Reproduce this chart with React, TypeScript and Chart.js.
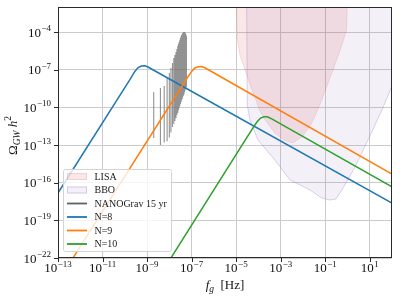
import React, { useEffect, useRef } from 'react';
import { Chart, registerables } from 'chart.js';

Chart.register(...registerables);

// ---- data (all values given as log10) ----
const N8_LOG_F = [-13, -9.75, -9.55, -9.4, -9.25, -9.1, -8.95, -8.72, 2];
const N8_LOG_OMEGA = [-16.82, -7.72, -7.13, -6.83, -6.7, -6.69, -6.78, -7.02, -17.62];

const N9_LOG_F = [-12.5, -7.2, -7.0, -6.85, -6.7, -6.55, -6.4, -6.17, 2];
const N9_LOG_OMEGA = [-22.48, -7.66, -7.13, -6.86, -6.76, -6.75, -6.84, -7.08, -15.31];

const N10_LOG_F = [-8.1, -4.6, -4.4, -4.2, -4.05, -3.9, -3.75, -3.6, -3.4, 2];
const N10_LOG_OMEGA = [-22.48, -12.63, -12.07, -11.51, -11.12, -10.85, -10.74, -10.75, -10.92, -16.34];

const LISA_LOG_F = [-5.0, -4.98, -4.94, -4.83, -4.6, -4.29, -4.11, -3.95, -3.7, -3.26, -2.85, -2.45, -2.0, -1.61, -1.34, -1.16, -0.65, -0.25, -0.04, 0.0];
const LISA_LOG_OMEGA = [-1.0, -2.0, -4.63, -5.82, -7.02, -8.61, -9.41, -10.21, -11.0, -12.04, -12.6, -12.84, -12.28, -11.27, -10.21, -9.41, -7.02, -5.03, -3.83, -1.0];

const BBO_LOG_F = [-4.53, -4.5, -4.38, -4.02, -3.26, -2.58, -1.68, -1.15, -0.79, -0.52, -0.25, 0.34, 0.92, 1.55, 2.0, 2.36];
const BBO_LOG_OMEGA = [-1.0, -9.8, -11.0, -12.6, -14.19, -15.78, -16.58, -17.22, -17.38, -17.3, -16.58, -14.75, -12.6, -10.21, -8.29, -7.0];

// NANOGrav 15 yr violins: frequency bins and vertical extent
const NG_LOG_F = [-8.70, -8.40, -8.23, -8.10, -8.00, -7.93, -7.86, -7.80, -7.75, -7.70, -7.66, -7.62, -7.59, -7.56, -7.53, -7.50, -7.47, -7.45, -7.42, -7.40, -7.38, -7.36, -7.34, -7.32, -7.31, -7.29, -7.27, -7.26, -7.24, -7.23];
const NG_LOG_TOP = [-8.77, -8.45, -8.29, -7.66, -7.26, -6.86, -6.46, -6.06, -5.82, -5.59, -5.35, -5.11, -4.95, -4.79, -4.63, -4.47, -4.31, -4.23, -4.15, -4.07, -4.07, -3.99, -4.07, -4.15, -3.99, -4.07, -4.23, -4.15, -4.39, -4.31];
const NG_LOG_BOTTOM = [-12.44, -13.0, -12.8, -12.7, -12.4, -12.0, -11.56, -11.32, -11.08, -10.84, -10.61, -10.45, -10.21, -10.05, -9.89, -9.73, -9.57, -9.41, -9.33, -9.17, -9.09, -9.01, -8.93, -8.77, -8.69, -8.61, -8.53, -8.45, -8.37, -8.29];

// axes
const X_MIN_EXP = -13;
const X_MAX_EXP = 2;
const Y_MIN_EXP = -22;
const Y_MAX_EXP = -2;
const X_TICK_EXPONENTS = [-13, -11, -9, -7, -5, -3, -1, 1];
const Y_TICK_EXPONENTS = [-22, -19, -16, -13, -10, -7, -4];

const FONT = '"Liberation Serif", "DejaVu Serif", serif';

const toPoints = (logF: number[], logO: number[]) =>
  logF.map((f, i) => ({ x: Math.pow(10, f), y: Math.pow(10, logO[i]) }));

const violinPoints = () => {
  const pts: { x: number; y: number | null }[] = [];
  NG_LOG_F.forEach((f, i) => {
    const x = Math.pow(10, f);
    pts.push({ x, y: Math.pow(10, NG_LOG_TOP[i]) });
    pts.push({ x, y: Math.pow(10, NG_LOG_BOTTOM[i]) });
    pts.push({ x, y: null });
  });
  return pts;
};

function drawPow(ctx: CanvasRenderingContext2D, x: number, y: number, exp: number, align: 'center' | 'right') {
  const base = '10';
  const sup = exp < 0 ? '\u2212' + Math.abs(exp) : String(exp);
  ctx.font = `13px ${FONT}`;
  const wb = ctx.measureText(base).width;
  ctx.font = `9px ${FONT}`;
  const ws = ctx.measureText(sup).width;
  const total = wb + ws + 0.5;
  const left = align === 'center' ? x - total / 2 : x - total;
  ctx.textAlign = 'left';
  ctx.textBaseline = 'alphabetic';
  ctx.font = `13px ${FONT}`;
  ctx.fillText(base, left, y);
  ctx.font = `9px ${FONT}`;
  ctx.fillText(sup, left + wb + 0.5, y - 5.5);
}

type Part = { t: string; size: number; italic?: boolean; dy?: number };
function drawParts(ctx: CanvasRenderingContext2D, parts: Part[], cx: number, baseline: number) {
  let total = 0;
  const widths = parts.map((p) => {
    ctx.font = `${p.italic ? 'italic ' : ''}${p.size}px ${FONT}`;
    const w = ctx.measureText(p.t).width;
    total += w;
    return w;
  });
  let x = cx - total / 2;
  ctx.textAlign = 'left';
  ctx.textBaseline = 'alphabetic';
  parts.forEach((p, i) => {
    ctx.font = `${p.italic ? 'italic ' : ''}${p.size}px ${FONT}`;
    ctx.fillText(p.t, x, baseline + (p.dy || 0));
    x += widths[i];
  });
}

const decorPlugin = {
  id: 'decor',
  afterDraw(chart: any) {
    const ctx: CanvasRenderingContext2D = chart.ctx;
    const { left, right, top, bottom } = chart.chartArea;
    const xs = chart.scales.x;
    const ys = chart.scales.y;
    ctx.save();
    // frame
    ctx.strokeStyle = '#2a2a2a';
    ctx.lineWidth = 1;
    ctx.strokeRect(left + 0.5, top + 0.5, right - left - 1, bottom - top - 1);
    // ticks + labels
    ctx.fillStyle = '#111';
    ctx.beginPath();
    xs.ticks.forEach((t: any) => {
      const px = xs.getPixelForValue(t.value);
      ctx.moveTo(Math.round(px) + 0.5, bottom);
      ctx.lineTo(Math.round(px) + 0.5, bottom + 4);
    });
    ys.ticks.forEach((t: any) => {
      const py = ys.getPixelForValue(t.value);
      ctx.moveTo(left - 4, Math.round(py) + 0.5);
      ctx.lineTo(left, Math.round(py) + 0.5);
    });
    ctx.stroke();
    xs.ticks.forEach((t: any) => {
      const px = xs.getPixelForValue(t.value);
      drawPow(ctx, px, bottom + 14, Math.round(Math.log10(t.value)), 'center');
    });
    ys.ticks.forEach((t: any) => {
      const py = ys.getPixelForValue(t.value);
      drawPow(ctx, left - 7, py + 4.5, Math.round(Math.log10(t.value)), 'right');
    });
    // x title
    drawParts(
      ctx,
      [
        { t: 'f', size: 13, italic: true },
        { t: 'g', size: 9.5, italic: true, dy: 3 },
        { t: '  [Hz]', size: 13 },
      ],
      (left + right) / 2,
      288.5
    );
    // y title
    ctx.save();
    ctx.translate(16.5, (top + bottom) / 2 + 3);
    ctx.rotate(-Math.PI / 2);
    drawParts(
      ctx,
      [
        { t: '\u03A9', size: 13 },
        { t: 'GW', size: 9.5, italic: true, dy: 3 },
        { t: ' h', size: 13, italic: true },
        { t: '2', size: 9.5, dy: -5.5 },
      ],
      0,
      0
    );
    ctx.restore();

    // legend
    const lx = 63.5, ly = 169.5, lw = 108, lh = 82;
    ctx.beginPath();
    ctx.roundRect(lx, ly, lw, lh, 2);
    ctx.fillStyle = 'rgba(255,255,255,0.8)';
    ctx.fill();
    ctx.strokeStyle = '#d4d4d4';
    ctx.lineWidth = 1;
    ctx.stroke();
    chart.data.datasets.forEach((ds: any, i: number) => {
      const cy = 176.5 + i * 13.5;
      if (ds.fill) {
        ctx.fillStyle = ds.backgroundColor;
        ctx.fillRect(67, cy - 3.5, 20, 7);
        ctx.strokeStyle = ds.borderColor;
        ctx.strokeRect(67.5, cy - 3, 19, 6);
      } else {
        ctx.strokeStyle = ds.legendColor || ds.borderColor;
        ctx.lineWidth = 1.8;
        ctx.beginPath();
        ctx.moveTo(67, cy);
        ctx.lineTo(87, cy);
        ctx.stroke();
        ctx.lineWidth = 1;
      }
      ctx.fillStyle = '#1a1a1a';
      ctx.font = `10px ${FONT}`;
      ctx.textAlign = 'left';
      ctx.textBaseline = 'middle';
      ctx.fillText(ds.label, 94.5, cy + 0.5);
    });
    ctx.restore();
  },
};

export default function App() {
  const ref = useRef<HTMLCanvasElement>(null);
  useEffect(() => {
    const canvas = ref.current!;
    const datasets: any[] = [
      {
        label: 'LISA',
        data: toPoints(LISA_LOG_F, LISA_LOG_OMEGA),
        fill: 'end',
        backgroundColor: 'rgba(214,39,40,0.11)',
        borderColor: 'rgba(214,39,40,0.13)',
        borderWidth: 1,
        pointRadius: 0,
        order: 6,
      },
      {
        label: 'BBO',
        data: toPoints(BBO_LOG_F, BBO_LOG_OMEGA),
        fill: 'end',
        backgroundColor: 'rgba(148,103,189,0.1)',
        borderColor: 'rgba(148,103,189,0.3)',
        borderWidth: 1,
        pointRadius: 0,
        order: 5,
      },
      {
        label: 'NANOGrav 15 yr',
        data: violinPoints(),
        borderColor: 'rgba(110,110,110,0.75)',
        legendColor: '#606060',
        borderWidth: 1.1,
        pointRadius: 0,
        spanGaps: false,
        fill: false,
        order: 4,
      },
      {
        label: 'N=8',
        data: toPoints(N8_LOG_F, N8_LOG_OMEGA),
        borderColor: '#1f77b4',
        borderWidth: 1.5,
        pointRadius: 0,
        fill: false,
        order: 3,
      },
      {
        label: 'N=9',
        data: toPoints(N9_LOG_F, N9_LOG_OMEGA),
        borderColor: '#ff7f0e',
        borderWidth: 1.5,
        pointRadius: 0,
        fill: false,
        order: 2,
      },
      {
        label: 'N=10',
        data: toPoints(N10_LOG_F, N10_LOG_OMEGA),
        borderColor: '#2ca02c',
        borderWidth: 1.5,
        pointRadius: 0,
        fill: false,
        order: 1,
      },
    ];
    const chart = new Chart(canvas, {
      type: 'line',
      data: { datasets },
      options: {
        animation: false,
        responsive: false,
        devicePixelRatio: 1,
        layout: { padding: { left: 0, right: 8, top: 7, bottom: 0 } },
        plugins: { legend: { display: false }, tooltip: { enabled: false } },
        elements: { line: { tension: 0 } },
        scales: {
          x: {
            type: 'logarithmic',
            min: Math.pow(10, X_MIN_EXP),
            max: Math.pow(10, X_MAX_EXP),
            afterBuildTicks: (s: any) => {
              s.ticks = X_TICK_EXPONENTS.map((e) => ({ value: Math.pow(10, e) }));
            },
            afterFit: (s: any) => {
              s.height = 42;
            },
            ticks: { display: false },
            grid: { color: '#cbcbcb', lineWidth: 1, drawTicks: false },
            border: { display: false },
          },
          y: {
            type: 'logarithmic',
            min: Math.pow(10, Y_MIN_EXP),
            max: Math.pow(10, Y_MAX_EXP),
            afterBuildTicks: (s: any) => {
              s.ticks = Y_TICK_EXPONENTS.map((e) => ({ value: Math.pow(10, e) }));
            },
            afterFit: (s: any) => {
              s.width = 58;
            },
            ticks: { display: false },
            grid: { color: '#cbcbcb', lineWidth: 1, drawTicks: false },
            border: { display: false },
          },
        },
      },
      plugins: [decorPlugin],
    } as any);
    return () => chart.destroy();
  }, []);
  return (
    <div style={{ position: 'fixed', left: 0, top: 0, width: 400, height: 300, background: '#fff' }}>
      <canvas ref={ref} width={400} height={300} style={{ display: 'block' }} />
    </div>
  );
}
